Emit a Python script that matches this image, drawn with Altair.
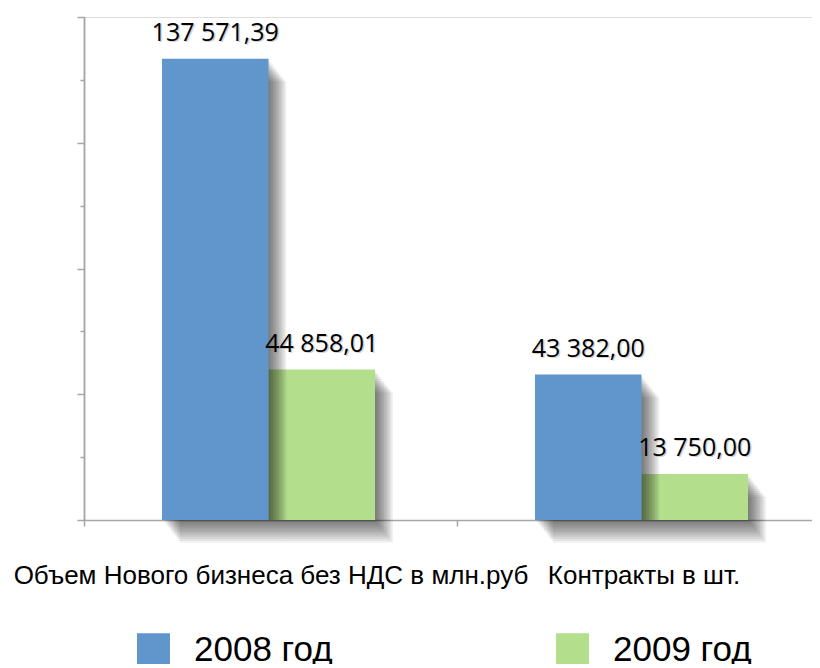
import altair as alt
import pandas as pd

categories = ["Объем Нового бизнеса без НДС в млн.руб", "Контракты в шт."]
years = ["2008 год", "2009 год"]
values_2008 = [137571.39, 43382.00]
values_2009 = [44858.01, 13750.00]
colors = ["#6096CB", "#B3DE8C"]
y_major_ticks = [0, 37500, 75000, 112500, 150000]
y_minor_ticks = [18750, 56250, 93750, 131250]


def fmt(v):
    return f"{v:,.2f}".replace(",", " ").replace(".", ",")


rows = []
for year, vals in zip(years, [values_2008, values_2009]):
    for c, v in zip(categories, vals):
        rows.append({"category": c, "year": year, "value": v, "label": fmt(v)})
df = pd.DataFrame(rows)

AXIS_GRAY = "#A6A6A6"
BASE_ALIGN = 0.4875
EXTRA_SPACE = 160.0  # band width left over beside the two bars

x_enc = alt.X(
    "category:N",
    sort=categories,
    scale=alt.Scale(domain=categories, paddingInner=0, paddingOuter=0, range=[0, 746]),
    axis=alt.Axis(
        title=None, labelAngle=0, labelFont="Liberation Sans", labelFontSize=26,
        labelColor="black", labelLimit=1000, labelPadding=36, tickBand="extent",
        tickSize=6, tickColor=AXIS_GRAY, tickWidth=1.5, domainColor=AXIS_GRAY,
        domainWidth=1.5, labelOverlap=False,
    ),
)


def xoff(shift=0.0):
    return alt.XOffset("year:N", sort=years, scale=alt.Scale(
        type="band", domain=years, paddingInner=0, paddingOuter=0.751,
        align=BASE_ALIGN + shift / EXTRA_SPACE))


y_scale = alt.Scale(domain=[0, 150000], nice=False, zero=True)

y_major = alt.Y("value:Q", scale=y_scale, axis=alt.Axis(
    orient="left", values=y_major_ticks, labels=False, title=None, grid=False,
    tickSize=7, tickColor=AXIS_GRAY, tickWidth=1.5, domainColor=AXIS_GRAY, domainWidth=1.5))
y_minor = alt.Y("value:Q", scale=y_scale, axis=alt.Axis(
    orient="left", values=y_minor_ticks, labels=False, title=None, grid=False,
    tickSize=4, tickColor=AXIS_GRAY, tickWidth=1.5, domainColor=AXIS_GRAY, domainWidth=1.5))
y_none = alt.Y("value:Q", scale=y_scale, axis=None)

color_enc = alt.Color("year:N", scale=alt.Scale(domain=years, range=colors), legend=alt.Legend(
    orient="none", legendX=52, legendY=615, direction="horizontal", title=None, padding=0,
    symbolType="square", symbolSize=1089, symbolStrokeWidth=0, symbolOpacity=1,
    labelFont="Liberation Sans", labelFontSize=35, labelColor="black", labelOffset=23,
    columnPadding=222))

base = alt.Chart(df)


def shadows(year, first_axis=None):
    out = []
    for k in range(1, 13):
        y = y_none
        if first_axis is not None and k == 1:
            y = first_axis
        out.append(
            base.transform_filter(alt.datum.year == year)
            .mark_bar(color="black", opacity=0.055, yOffset=k * 1.9)
            .encode(x=x_enc, xOffset=xoff(k * 1.5), y=y)
        )
    return out


def bars(year, y, legend=False):
    return base.transform_filter(alt.datum.year == year).mark_bar().encode(
        x=x_enc, xOffset=xoff(), y=y,
        color=color_enc if legend else alt.Color("year:N", scale=alt.Scale(domain=years, range=colors), legend=None),
    )


text_shadow = base.mark_text(font="Open Sans", fontSize=25, dx=1.5, dy=-16.5,
                             baseline="alphabetic", color="#808080", opacity=0.35).encode(
    x=x_enc, xOffset=xoff(), y=y_none, text="label:N")
text = base.mark_text(font="Open Sans", fontSize=25, dy=-18, baseline="alphabetic",
                      color="black").encode(x=x_enc, xOffset=xoff(), y=y_none, text="label:N")

layers = (
    shadows("2009 год", first_axis=y_minor)
    + [bars("2009 год", y_none, legend=True)]
    + shadows("2008 год")
    + [bars("2008 год", y_major), text_shadow, text]
)

chart = alt.layer(*layers).resolve_axis(y="independent").resolve_scale(
    xOffset="independent").properties(
    width=728, height=503,
    padding={"left": 76, "top": 9, "right": 0, "bottom": 144},
    autosize=alt.AutoSizeParams(type="none"),
).configure_view(stroke=None).configure(background="white")

chart.save("out.html", embed_options={"renderer": "svg", "actions": False})
